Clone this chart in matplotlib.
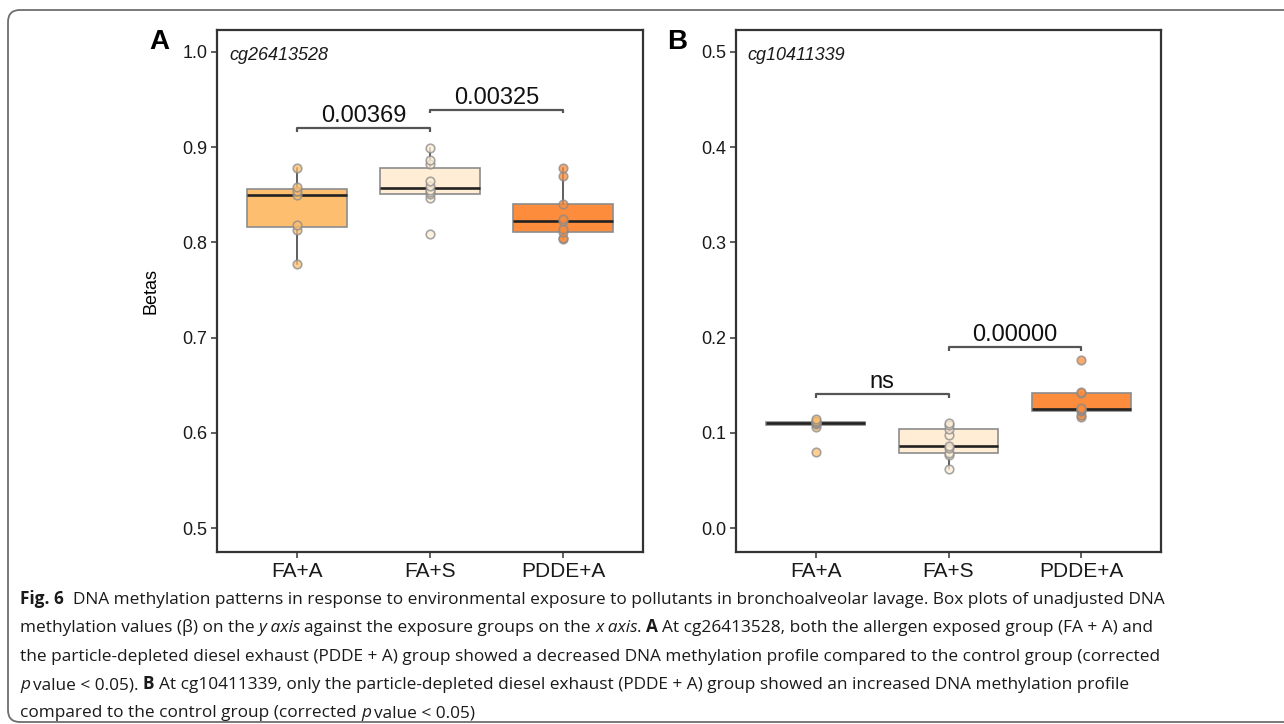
import matplotlib
matplotlib.use("Agg")
import matplotlib.pyplot as plt
from matplotlib.patches import FancyBboxPatch
from matplotlib.font_manager import FontProperties, fontManager
from matplotlib.transforms import IdentityTransform
import numpy as np

plt.rcParams["font.family"] = ["Liberation Sans", "DejaVu Sans"]

# ── data ──────────────────────────────────────────────────────────────────
GROUPS = ["FA+A", "FA+S", "PDDE+A"]
FILLS = ["#FDBF6F", "#FFEDD6", "#FD8D3C"]

# panel A : cg26413528
a_fa_a = [0.7774, 0.8130, 0.8183, 0.8495, 0.8540, 0.8586, 0.8778]
a_fa_s = [0.8085, 0.8470, 0.8508, 0.8525, 0.8550, 0.8595, 0.8646, 0.8821, 0.8866, 0.8995]
a_pdde = [0.8036, 0.8050, 0.8105, 0.8142, 0.8222, 0.8243, 0.8404, 0.8695, 0.8778]

# panel B : cg10411339
b_fa_a = [0.0800, 0.1065, 0.1090, 0.1105, 0.1110, 0.1120, 0.1150]
b_fa_s = [0.0615, 0.0767, 0.0785, 0.0837, 0.0865, 0.0977, 0.1037, 0.1085, 0.1106]
b_pdde = [0.1163, 0.1187, 0.1229, 0.1240, 0.1247, 0.1257, 0.1415, 0.1426, 0.1761]

# significance brackets: (group i, group j, height, label)
a_brackets = [(1, 2, 0.9199, "0.00369"), (2, 3, 0.9390, "0.00325")]
b_brackets = [(1, 2, 0.1404, "ns"), (2, 3, 0.1898, "0.00000")]

a_ticks = [0.5, 0.6, 0.7, 0.8, 0.9, 1.0]
b_ticks = [0.0, 0.1, 0.2, 0.3, 0.4, 0.5]

DARK = "#333333"

fig = plt.figure(figsize=(12.84, 7.24), dpi=100)

# outer rounded frame (right edge runs off the image)
frame = FancyBboxPatch((0.08, 0.02), 13.0, 7.12, boxstyle="round,pad=0,rounding_size=0.12",
                       transform=fig.dpi_scale_trans, facecolor="none",
                       edgecolor="#6e6e6e", lw=1.3, clip_on=False)
fig.patches.append(frame)


def panel(ax, data, brackets, ylim, yticks, gene):
    bp = ax.boxplot(data, positions=[1, 2, 3], widths=0.75, patch_artist=True,
                    showfliers=False, showcaps=False,
                    medianprops=dict(color="#222222", lw=1.9),
                    whiskerprops=dict(color=DARK, lw=1.1),
                    boxprops=dict(edgecolor="#8c8c8c", lw=1.2))
    for patch, c in zip(bp["boxes"], FILLS):
        patch.set_facecolor(c)
        patch.set_zorder(2)
    for med in bp["medians"]:
        med.set_zorder(3)
    for i, (vals, c) in enumerate(zip(data, FILLS)):
        ax.scatter(np.full(len(vals), i + 1), vals, s=38, facecolor=c,
                   edgecolor="#8a8a8a", linewidths=1.2, alpha=0.75, zorder=4)

    tip = 0.0035
    for i, j, y, lab in brackets:
        ax.plot([i, i, j, j], [y - tip, y, y, y - tip], color="#555555", lw=1.6,
                solid_capstyle="butt", zorder=5)
        ax.text((i + j) / 2, y + 0.001, lab, ha="center", va="bottom", fontsize=17,
                color="#111111")

    ax.set_xlim(0.4, 3.6)
    ax.set_ylim(*ylim)
    ax.set_xticks([1, 2, 3])
    ax.set_xticklabels(GROUPS, fontsize=15)
    ax.set_yticks(yticks)
    ax.set_yticklabels([f"{t:.1f}" for t in yticks], fontsize=13)
    ax.tick_params(length=4, width=1.1, color=DARK, labelcolor="#1a1a1a", pad=3)
    for s in ax.spines.values():
        s.set_color(DARK)
        s.set_linewidth(1.6)
    ax.text(0.028, 0.952, gene, transform=ax.transAxes, fontsize=13,
            style="italic", va="center", ha="left", color="#1a1a1a")


W, H = 1284, 724
axA = fig.add_axes([217 / W, 1 - 552 / H, (643 - 217) / W, (552 - 30) / H])
axB = fig.add_axes([736 / W, 1 - 552 / H, (1161 - 736) / W, (552 - 30) / H])

panel(axA, [a_fa_a, a_fa_s, a_pdde], a_brackets, (0.4748, 1.0231), a_ticks, "cg26413528")
panel(axB, [b_fa_a, b_fa_s, b_pdde], b_brackets, (-0.0252, 0.5231), b_ticks, "cg10411339")
axA.set_ylabel("Betas", fontsize=13, labelpad=16)

fig.text(159 / W, 1 - 42 / H, "A", fontsize=20, fontweight="bold", ha="center", va="center")
fig.text(677 / W, 1 - 42 / H, "B", fontsize=20, fontweight="bold", ha="center", va="center")

# ── caption with mixed bold / italic runs ────────────────────────────────
names = {f.name for f in fontManager.ttflist}
cap_family = "Liberation Sans Narrow" if "Liberation Sans Narrow" in names else "Open Sans"

R, B_, I = "r", "b", "i"
caption = [
    [("Fig. 6", B_), ("  DNA methylation patterns in response to environmental exposure to pollutants "
                      "in bronchoalveolar lavage. Box plots of unadjusted DNA", R)],
    [("methylation values (β) on the ", R), ("y axis", I),
     (" against the exposure groups on the ", R), ("x axis", I), (". ", R), ("A", B_),
     (" At cg26413528, both the allergen exposed group (FA + A) and", R)],
    [("the particle-depleted diesel exhaust (PDDE + A) group showed a decreased DNA "
      "methylation profile compared to the control group (corrected", R)],
    [("p", I), (" value < 0.05). ", R), ("B", B_),
     (" At cg10411339, only the particle-depleted diesel exhaust (PDDE + A) group showed "
      "an increased DNA methylation profile", R)],
    [("compared to the control group (corrected ", R), ("p", I), (" value < 0.05)", R)],
]

renderer = fig.canvas.get_renderer()


def fprops(style, size):
    return FontProperties(family=cap_family, size=size,
                          weight="bold" if style == B_ else "normal",
                          style="italic" if style == I else "normal")


def width(s, fp):
    if not s:
        return 0.0
    w, h, d = renderer.get_text_width_height_descent(s, fp, ismath=False)
    return w


def line_width(runs, size):
    total = 0.0
    for txt, st in runs:
        fp = fprops(st, size)
        sp = width("a a", fp) - width("aa", fp)
        core = txt.strip()
        lead = len(txt) - len(txt.lstrip())
        trail = len(txt) - len(txt.rstrip())
        total += lead * sp + width(core, fp) + trail * sp
    return total


# fit the first caption line to the reference width (x 20 -> 1162)
base = 10.0
cap_size = base * (1162 - 20) / line_width(caption[0], base)

baselines = [604, 632, 661, 689, 717]
for runs, yb in zip(caption, baselines):
    x = 20.0
    for txt, st in runs:
        fp = fprops(st, cap_size)
        sp = width("a a", fp) - width("aa", fp)
        core = txt.strip()
        lead = len(txt) - len(txt.lstrip())
        trail = len(txt) - len(txt.rstrip())
        x += lead * sp
        if core:
            fig.text(x, H - yb, core, fontproperties=fp, transform=IdentityTransform(),
                     ha="left", va="baseline", color="#1a1a1a")
        x += width(core, fp) + trail * sp
        if st == I:
            x -= 1.5

fig.savefig("out.png", dpi=100)
